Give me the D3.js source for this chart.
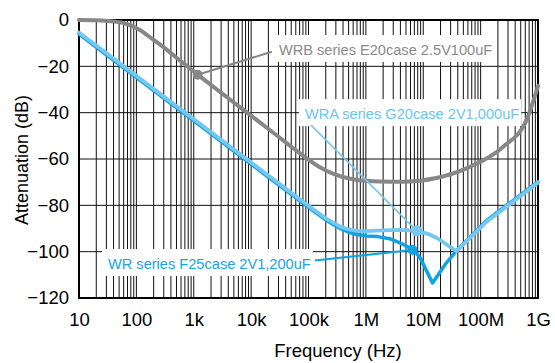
<!DOCTYPE html>
<html>
<head>
<meta charset="utf-8">
<script src="https://cdn.jsdelivr.net/npm/d3@7"></script>
<style>
  body { margin: 0; background: #fff; }
  svg { display: block; font-family: "Liberation Sans", Arial, sans-serif; }
</style>
</head>
<body>
<svg id="chart" width="555" height="363"></svg>
<script>
// values (frequency in Hz, attenuation in dB)
const wrbFreq = [10, 20, 32, 55, 83, 120, 159, 250, 355, 500, 705, 1170, 2500, 4800, 10000, 18800, 40000, 79000, 150000, 266000, 590000, 1.74e6, 4.4e6, 1.7e7, 6.5e7, 2.45e8, 6.3e8, 1e9];
const wrbDb   = [0, -0.1, -0.4, -1.1, -2.5, -4.6, -6.8, -10.3, -13.2, -16.3, -19.2, -23.6, -29.9, -35.3, -41.3, -46.5, -52.8, -58.4, -63.2, -66.3, -68.7, -69.7, -69.8, -68.2, -63.4, -54.8, -43.2, -28.5];

const wraFreq = [10, 1e5, 2e5, 3.5e5, 5e5, 7e5, 1e6, 2e6, 4e6, 7.7e6, 1.2e7, 1.7e7, 2.6e7, 3.8e7, 1.26e8, 1e9];
const wraDb   = [-5.4, -80.2, -85.6, -89.1, -90.4, -91.0, -91.1, -90.8, -90.6, -91.0, -92.3, -94.0, -97.0, -99.8, -87.2, -70.2];

const wrFreq = [10, 1e5, 2e5, 3.5e5, 5e5, 7e5, 1e6, 1.6e6, 2.6e6, 4e6, 5.5e6, 7e6, 9e6, 1.45e7, 2.5e7, 3.8e7, 1.26e8, 1e9];
const wrDb   = [-6.1, -80.9, -86.3, -89.9, -91.6, -92.6, -93.2, -93.5, -94.4, -96.3, -98.0, -99.5, -103.0, -113.5, -105.0, -99.6, -86.6, -69.8];

const xTickLabels = ["10", "100", "1k", "10k", "100k", "1M", "10M", "100M", "1G"];
const yTicks = [0, -20, -40, -60, -80, -100, -120];

const labelText = ["WRB series E20case 2.5V100uF", "WRA series G20case 2V1,000uF", "WR series F25case 2V1,200uF"];
const labelAt   = [[30500, -12.9], [87000, -40.6], [32, -105.3]];
const markerAt  = [[1170, -23.6], [7.7e6, -91.0], [6.5e6, -99.3]];

const svg = d3.select("#chart");
const plotL = 79, plotR = 538, plotT = 20, plotB = 298;

const x = d3.scaleLog().domain([10, 1e9]).range([plotL, plotR]);
const y = d3.scaleLinear().domain([-120, 0]).range([plotB, plotT]);

const gray = "#878787", light = "#76c7f0", dark = "#0ea3e3";
const textCol = ["#8a8a8a", "#6cc4ef", "#16a4e4"];
const lineCol = [gray, light, dark];

// grid
const grid = svg.append("g").attr("stroke", "#111").attr("stroke-width", 1);
grid.selectAll("line.v")
    .data(x.ticks())
    .enter().append("line")
    .attr("class", "v")
    .attr("x1", d => x(d)).attr("x2", d => x(d))
    .attr("y1", plotT).attr("y2", plotB);
grid.selectAll("line.h")
    .data(yTicks)
    .enter().append("line")
    .attr("class", "h")
    .attr("x1", plotL).attr("x2", plotR)
    .attr("y1", d => y(d)).attr("y2", d => y(d));

// white boxes behind the label text hide the grid
const boxLayer = svg.append("g");
const labels = svg.append("g").attr("font-size", "14.6px");
const texts = labels.selectAll("text")
    .data(labelText)
    .enter().append("text")
    .attr("x", (d, i) => x(labelAt[i][0]))
    .attr("y", (d, i) => y(labelAt[i][1]))
    .attr("dy", "0.35em")
    .attr("fill", (d, i) => textCol[i])
    .text(d => d);

const boxes = [];
texts.each(function () {
    const b = this.getBBox();
    boxes.push({ x: b.x - 6, y: b.y - 7, w: b.width + 8, h: b.height + 11 });
});
boxLayer.selectAll("rect")
    .data(boxes)
    .enter().append("rect")
    .attr("x", d => d.x).attr("y", d => d.y)
    .attr("width", d => d.w).attr("height", d => d.h)
    .attr("fill", "#fff");

// frame
svg.append("rect")
    .attr("x", plotL).attr("y", plotT)
    .attr("width", plotR - plotL).attr("height", plotB - plotT)
    .attr("fill", "none").attr("stroke", "#000").attr("stroke-width", 2);

const line = d3.line()
    .x(d => x(d[0]))
    .y(d => y(d[1]));

const curves = svg.append("g").attr("fill", "none").attr("stroke-linejoin", "round").attr("stroke-linecap", "round");
curves.append("path")
    .attr("d", line.curve(d3.curveMonotoneX)(d3.zip(wrbFreq, wrbDb)))
    .attr("stroke", gray).attr("stroke-width", 4);
curves.append("path")
    .attr("d", line.curve(d3.curveLinear)(d3.zip(wrFreq, wrDb)))
    .attr("stroke", dark).attr("stroke-width", 3.5);
curves.append("path")
    .attr("d", line.curve(d3.curveLinear)(d3.zip(wraFreq, wraDb)))
    .attr("stroke", light).attr("stroke-width", 3.8);

// leader lines from the labels to the markers
const leaderStart = boxes.map((b, i) => {
    if (i === 0) return [b.x - 1, b.y + b.h * 0.62];
    if (i === 1) return [b.x + 12, b.y + b.h - 1];
    return [b.x + b.w + 2, b.y + b.h * 0.42];
});
svg.append("g")
    .selectAll("line")
    .data(markerAt)
    .enter().append("line")
    .attr("x1", (d, i) => leaderStart[i][0]).attr("y1", (d, i) => leaderStart[i][1])
    .attr("x2", d => x(d[0])).attr("y2", d => y(d[1]))
    .attr("stroke", (d, i) => lineCol[i])
    .attr("stroke-width", (d, i) => i === 1 ? 1.6 : 2);

svg.append("g")
    .selectAll("circle")
    .data(markerAt)
    .enter().append("circle")
    .attr("cx", d => x(d[0])).attr("cy", d => y(d[1]))
    .attr("r", (d, i) => i === 1 ? 5.5 : 5)
    .attr("fill", (d, i) => lineCol[i]);

labels.raise();

// axes
const xAxis = svg.append("g")
    .attr("transform", `translate(0,${plotB})`)
    .call(d3.axisBottom(x)
        .tickValues(xTickLabels.map((d, i) => Math.pow(10, i + 1)))
        .tickFormat((d, i) => xTickLabels[i])
        .tickSize(0).tickPadding(15));
const yAxis = svg.append("g")
    .attr("transform", `translate(${plotL},0)`)
    .call(d3.axisLeft(y).tickValues(yTicks).tickSize(0).tickPadding(10));
[xAxis, yAxis].forEach(a => {
    a.select(".domain").remove();
    a.attr("font-family", null).attr("font-size", null);
    a.selectAll("text").attr("font-size", "18.5px").attr("fill", "#000");
});

svg.append("text")
    .attr("x", 338).attr("y", 357)
    .attr("text-anchor", "middle")
    .attr("font-size", "18.5px")
    .text("Frequency (Hz)");
svg.append("text")
    .attr("transform", "translate(28,160) rotate(-90)")
    .attr("text-anchor", "middle")
    .attr("font-size", "18px")
    .text("Attenuation (dB)");
</script>
</body>
</html>
